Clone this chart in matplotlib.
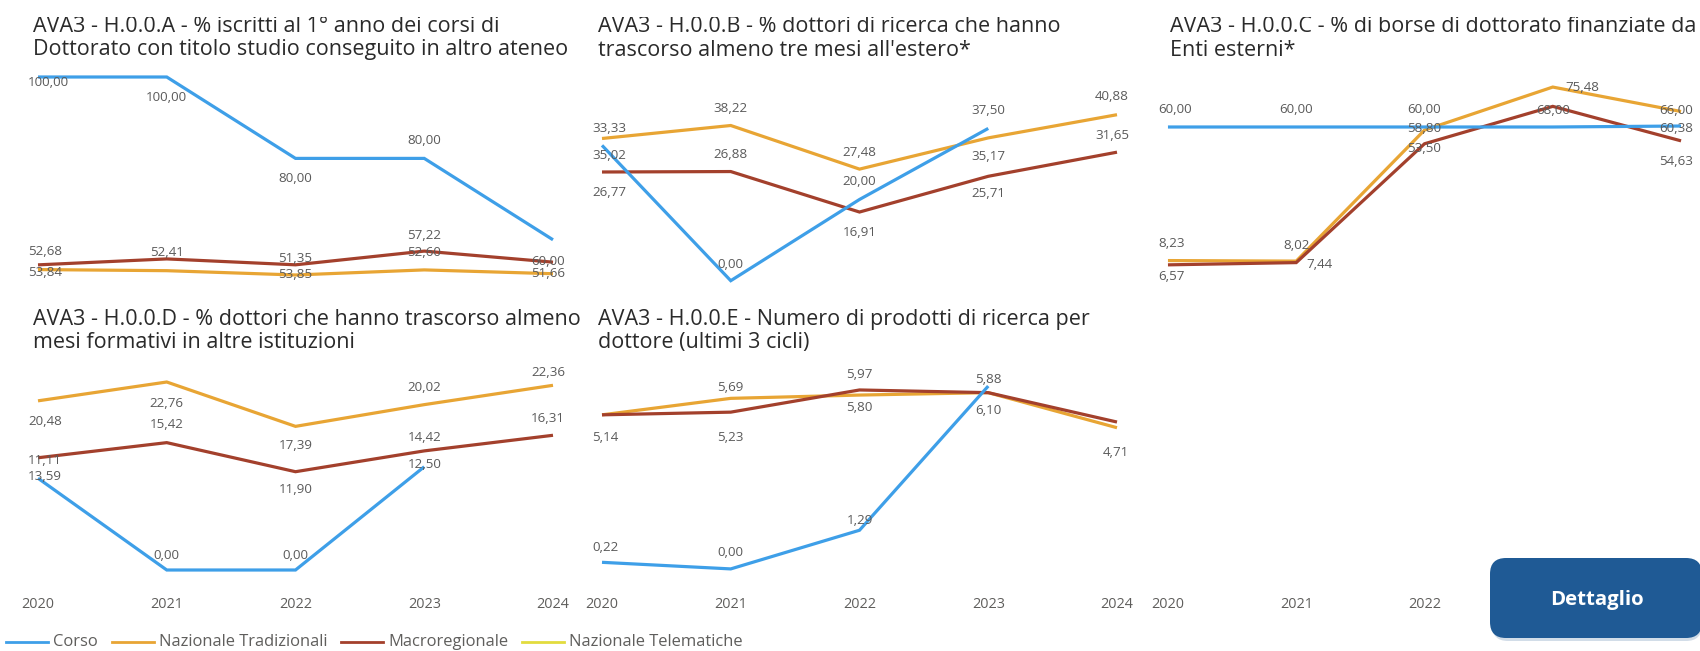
import numpy as np
import matplotlib
matplotlib.use("Agg")
import matplotlib.pyplot as plt
from matplotlib.transforms import offset_copy
from matplotlib.patches import FancyBboxPatch
from matplotlib.lines import Line2D

# ---------------- data ----------------
years = [2020, 2021, 2022, 2023, 2024]
year_labels = ["2020", "2021", "2022", "2023", "2024"]
series_names = ["Corso", "Nazionale Tradizionali", "Macroregionale", "Nazionale Telematiche"]

title_A = ["AVA3 - H.0.0.A - % iscritti al 1° anno dei corsi di",
           "Dottorato con titolo studio conseguito in altro ateneo"]
title_B = ["AVA3 - H.0.0.B - % dottori di ricerca che hanno",
           "trascorso almeno tre mesi all'estero*"]
title_C = ["AVA3 - H.0.0.C - % di borse di dottorato finanziate da",
           "Enti esterni*"]
title_D = ["AVA3 - H.0.0.D - % dottori che hanno trascorso almeno tre",
           "mesi formativi in altre istituzioni"]
title_E = ["AVA3 - H.0.0.E - Numero di prodotti di ricerca per",
           "dottore (ultimi 3 cicli)"]

corso_A = [100.00, 100.00, 80.00, 80.00, 60.00]
trad_A = [52.68, 52.41, 51.35, 52.60, 51.66]
macro_A = [53.84, 55.30, 53.85, 57.22, 54.50]

corso_B = [33.33, 0.00, 20.00, 37.50, None]
trad_B = [35.02, 38.22, 27.48, 35.17, 40.88]
macro_B = [26.77, 26.88, 16.91, 25.71, 31.65]

corso_C = [60.00, 60.00, 60.00, 60.00, 60.38]
trad_C = [8.23, 8.02, 58.80, 75.48, 66.00]
macro_C = [6.57, 7.44, 53.50, 68.00, 54.63]

corso_D = [11.11, 0.00, 0.00, 12.50, None]
trad_D = [20.48, 22.76, 17.39, 20.02, 22.36]
macro_D = [13.59, 15.42, 11.90, 14.42, 16.31]

corso_E = [0.22, 0.00, 1.29, 6.10, None]
trad_E = [5.14, 5.69, 5.80, 5.88, 4.71]
macro_E = [5.14, 5.23, 5.97, 5.88, 4.90]

button_text = "Dettaglio"

# ---------------- style ----------------
W, H, DPI = 1700, 651, 100
C_BLUE = "#3E9FE8"
C_ORANGE = "#E8A534"
C_RED = "#A3402C"
C_YELLOW = "#E2DC3E"
C_TITLE = "#2A2A2A"
C_LABEL = "#5A5A5A"
C_TICK = "#5F5E5C"
LW = 2.3
FAMILY = "Open Sans"

# label offsets in px (dx, dy), dy positive = downward; None = label hidden
off_A = {"corso": [(0, 5), (0, 20), (0, 20), (0, -18), (0, 22)],
         "trad": [(0, -18), (0, -18), (0, -16), (0, -17), (0, 0)],
         "macro": [(0, 8), None, (0, 10), (0, -16), None]}
off_B = {"corso": [(0, -17), (0, -16), (0, -18), (0, -18), None],
         "trad": [(0, 17), (0, -17), (0, -17), (0, 19), (0, -18)],
         "macro": [(0, 21), (0, -17), (0, 20), (0, 17), (0, -17)]}
off_C = {"corso": [(0, -17), (0, -17), (0, -17), None, (0, 2)],
         "trad": [(0, -17), (0, -16), (0, -2), (30, 0), (0, -1)],
         "macro": [(0, 12), (23, 2), (0, 5), (0, 4), (0, 21)]}
off_D = {"corso": [(0, -18), (0, -15), (0, -15), (0, -2), None],
         "trad": [(0, 21), (0, 21), (0, 19), (0, -17), (0, -13)],
         "macro": [(0, 19), (0, -18), (0, 18), (0, -13), (0, -17)]}
off_E = {"corso": [(0, -15), (0, -16), (0, -10), (0, 24), None],
         "trad": [None, (0, -11), (0, 12), None, (0, 25)],
         "macro": [(0, 23), (0, 25), (0, -15), (0, -13), None]}

fig = plt.figure(figsize=(W / DPI, H / DPI), dpi=DPI)
fig.patch.set_facecolor("white")
renderer = fig.canvas.get_renderer()


def fit_size(s, px, weight="normal"):
    t = fig.text(0, 0, s, fontsize=10, family=FAMILY, weight=weight)
    w = t.get_window_extent(renderer=renderer).width
    t.remove()
    return 10.0 * px / w


FS_TITLE = fit_size(title_C[0], 526)
FS_LABEL = fit_size("100,00", 42)
FS_TICK = fit_size("2020", 33)
FS_LEG = fit_size("Nazionale Tradizionali", 170)
FS_BTN = fit_size(button_text, 94, weight="bold")

XLIM = (2020 - 10 / 128.75, 2024 + 13 / 128.75)


def fmt(v):
    return f"{v:.2f}".replace(".", ",")


def draw_panel(rect_px, ylim, corso, trad, macro, offs, xticks):
    x0, y0, x1, y1 = rect_px
    ax = fig.add_axes([x0 / W, 1 - y1 / H, (x1 - x0) / W, (y1 - y0) / H])
    ax.set_xlim(*XLIM)
    ax.set_ylim(*ylim)
    for s in ax.spines.values():
        s.set_visible(False)
    ax.set_yticks([])
    ax.patch.set_alpha(0)
    if xticks:
        ax.set_xticks(years[:xticks])
        ax.set_xticklabels(year_labels[:xticks], fontsize=FS_TICK, color=C_TICK, family=FAMILY)
        ax.tick_params(axis="x", length=0, pad=12)
    else:
        ax.set_xticks([])
    if corso is None:
        return ax
    series = [("trad", trad, C_ORANGE, 2), ("macro", macro, C_RED, 3), ("corso", corso, C_BLUE, 4)]
    for key, vals, col, z in series:
        arr = np.array([np.nan if v is None else v for v in vals], dtype=float)
        ax.plot(years, arr, color=col, lw=LW, solid_capstyle="butt", solid_joinstyle="miter", zorder=z)
    for key, vals, col, z in series:
        for i, v in enumerate(vals):
            o = offs[key][i]
            if v is None or o is None:
                continue
            dx, dy = o
            ha = "center"
            if i == 0 and dx == 0:
                ha, dx = "left", -10
            elif i == len(vals) - 1 and dx == 0:
                ha, dx = "right", 12
            tr = offset_copy(ax.transData, fig=fig, x=dx, y=-dy, units="dots")
            ax.text(years[i], v, fmt(v), transform=tr, ha=ha, va="center",
                    fontsize=FS_LABEL, color=C_LABEL, family=FAMILY, zorder=6, clip_on=False)
    return ax


TOP = (65, 285)
BOT = (345, 580)
COLS = [(28, 566), (592, 1130), (1158, 1694)]

draw_panel((COLS[0][0], TOP[0], COLS[0][1], TOP[1]), (48.89, 102.95), corso_A, trad_A, macro_A, off_A, 0)
draw_panel((COLS[1][0], TOP[0], COLS[1][1], TOP[1]), (-1.06, 53.12), corso_B, trad_B, macro_B, off_B, 0)
draw_panel((COLS[2][0], TOP[0], COLS[2][1], TOP[1]), (-1.24, 84.03), corso_C, trad_C, macro_C, off_C, 0)
draw_panel((COLS[0][0], BOT[0], COLS[0][1], BOT[1]), (-1.21, 27.24), corso_D, trad_D, macro_D, off_D, 5)
draw_panel((COLS[1][0], BOT[0], COLS[1][1], BOT[1]), (-0.37, 7.47), corso_E, trad_E, macro_E, off_E, 5)
draw_panel((COLS[2][0], BOT[0], COLS[2][1], BOT[1]), (0, 1), None, None, None, None, 3)


# ---------------- titles (each clipped to its own panel box) ----------------
def title_box(x0, y0, x1, y1, lines):
    tax = fig.add_axes([x0 / W, 1 - y1 / H, (x1 - x0) / W, (y1 - y0) / H], zorder=8)
    tax.set_xlim(x0, x1)
    tax.set_ylim(y1, y0)
    tax.axis("off")
    tax.patch.set_alpha(0)
    for k, line in enumerate(lines):
        tax.text(x0 + 5, y0 + 10 + 23 * k, line, fontsize=FS_TITLE, color=C_TITLE,
                 family=FAMILY, ha="left", va="center", clip_on=True)


title_box(28, 17, 590, 67, title_A)
title_box(593, 17, 1160, 67, title_B)
title_box(1165, 17, 1700, 67, title_C)
title_box(28, 309, 581, 359, title_D)
title_box(593, 309, 1160, 359, title_E)

# ---------------- overlay in pixel coordinates ----------------
ov = fig.add_axes([0, 0, 1, 1], zorder=10)
ov.set_xlim(0, W)
ov.set_ylim(H, 0)
ov.axis("off")
ov.patch.set_alpha(0)

# legend
leg_y = 642
x = 6
for name, col in zip(series_names, [C_BLUE, C_ORANGE, C_RED, C_YELLOW]):
    ov.add_line(Line2D([x, x + 42], [leg_y, leg_y], color=col, lw=2.0))
    t = ov.text(x + 47, leg_y, name, fontsize=FS_LEG, color=C_TICK, family=FAMILY,
                ha="left", va="center")
    w = t.get_window_extent(renderer=renderer).width
    x = x + 47 + w + 14

# button
shadow = FancyBboxPatch((1492, 561), 210, 80, boxstyle="round,pad=0,rounding_size=16",
                        facecolor="#9DB4CC", edgecolor="none", alpha=0.45, zorder=1)
ov.add_patch(shadow)
btn = FancyBboxPatch((1490, 558), 212, 80, boxstyle="round,pad=0,rounding_size=16",
                     facecolor="#1F5A95", edgecolor="none", zorder=2)
ov.add_patch(btn)
ov.text(1597, 600, button_text, fontsize=FS_BTN, weight="bold", color="white",
        family=FAMILY, ha="center", va="center", zorder=3)

fig.savefig("out.png", dpi=DPI, facecolor="white")
